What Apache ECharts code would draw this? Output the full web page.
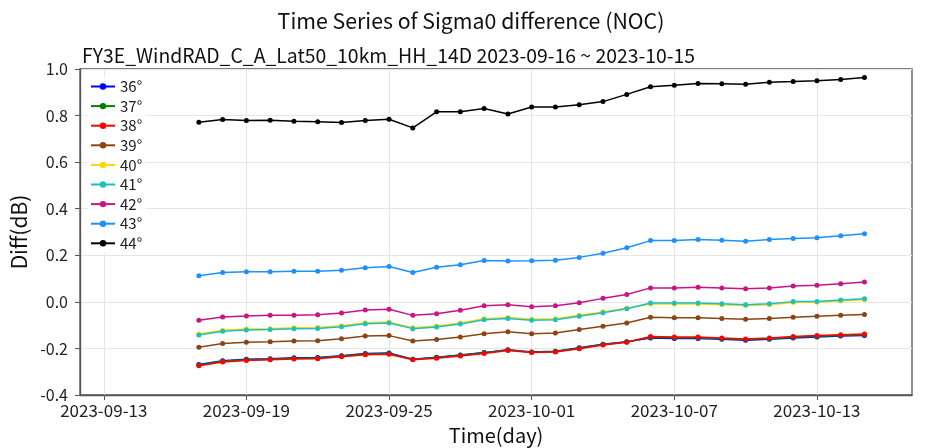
<!DOCTYPE html>
<html>
<head>
<meta charset="utf-8">
<script src="https://cdn.jsdelivr.net/npm/echarts@6/dist/echarts.min.js"></script>
<style>html,body{margin:0;padding:0;background:#fff;}#c{width:942px;height:448px;}</style>
</head>
<body>
<div id="c"></div>
<script>
const dates = ['2023-09-17','2023-09-18','2023-09-19','2023-09-20','2023-09-21','2023-09-22','2023-09-23','2023-09-24','2023-09-25','2023-09-26','2023-09-27','2023-09-28','2023-09-29','2023-09-30','2023-10-01','2023-10-02','2023-10-03','2023-10-04','2023-10-05','2023-10-06','2023-10-07','2023-10-08','2023-10-09','2023-10-10','2023-10-11','2023-10-12','2023-10-13','2023-10-14','2023-10-15'];
const xTickLabels = ['2023-09-13','2023-09-19','2023-09-25','2023-10-01','2023-10-07','2023-10-13'];
const xRange = ['2023-09-12','2023-10-17'];
const yTicks = [-0.4,-0.2,0.0,0.2,0.4,0.6,0.8,1.0];
const seriesNames = ['36°','37°','38°','39°','40°','41°','42°','43°','44°'];
const s36 = [-0.269,-0.253,-0.247,-0.244,-0.240,-0.239,-0.231,-0.222,-0.220,-0.246,-0.238,-0.228,-0.218,-0.206,-0.215,-0.212,-0.197,-0.182,-0.171,-0.155,-0.157,-0.157,-0.161,-0.165,-0.161,-0.155,-0.151,-0.147,-0.144];
const s37 = [-0.271,-0.255,-0.249,-0.246,-0.242,-0.241,-0.233,-0.224,-0.222,-0.247,-0.239,-0.229,-0.219,-0.207,-0.216,-0.213,-0.199,-0.183,-0.172,-0.152,-0.154,-0.154,-0.158,-0.162,-0.158,-0.152,-0.148,-0.144,-0.141];
const s38 = [-0.274,-0.258,-0.252,-0.249,-0.245,-0.244,-0.236,-0.227,-0.225,-0.249,-0.242,-0.233,-0.222,-0.209,-0.218,-0.215,-0.201,-0.185,-0.173,-0.149,-0.151,-0.151,-0.155,-0.159,-0.155,-0.149,-0.145,-0.141,-0.138];
const s39 = [-0.195,-0.179,-0.173,-0.171,-0.168,-0.167,-0.158,-0.147,-0.145,-0.168,-0.162,-0.151,-0.137,-0.128,-0.137,-0.134,-0.119,-0.105,-0.091,-0.066,-0.068,-0.068,-0.072,-0.075,-0.071,-0.066,-0.062,-0.058,-0.054];
const s40 = [-0.138,-0.122,-0.117,-0.115,-0.111,-0.110,-0.103,-0.090,-0.087,-0.111,-0.104,-0.091,-0.073,-0.067,-0.075,-0.073,-0.058,-0.043,-0.027,-0.009,-0.009,-0.009,-0.012,-0.016,-0.012,-0.003,-0.002,0.004,0.009];
const s41 = [-0.142,-0.126,-0.121,-0.119,-0.115,-0.114,-0.107,-0.094,-0.091,-0.115,-0.108,-0.095,-0.077,-0.071,-0.079,-0.077,-0.062,-0.047,-0.030,-0.005,-0.005,-0.005,-0.008,-0.012,-0.008,0.001,0.002,0.008,0.013];
const s42 = [-0.079,-0.065,-0.061,-0.058,-0.057,-0.055,-0.048,-0.035,-0.032,-0.058,-0.051,-0.036,-0.017,-0.012,-0.021,-0.017,-0.004,0.015,0.032,0.060,0.060,0.063,0.060,0.056,0.060,0.068,0.071,0.078,0.085];
const s43 = [0.112,0.126,0.129,0.129,0.131,0.131,0.136,0.146,0.152,0.126,0.149,0.159,0.178,0.175,0.176,0.179,0.191,0.209,0.232,0.263,0.263,0.268,0.265,0.260,0.268,0.272,0.275,0.284,0.292];
const s44 = [0.771,0.783,0.779,0.780,0.776,0.773,0.770,0.779,0.784,0.747,0.816,0.816,0.830,0.807,0.837,0.837,0.846,0.860,0.891,0.924,0.930,0.938,0.937,0.934,0.943,0.946,0.950,0.955,0.963];
const seriesValues = [s36,s37,s38,s39,s40,s41,s42,s43,s44];
const colors = ['#0000ff','#008000','#ff0000','#8b4513','#ffd700','#20bfbf','#c71585','#1e90ff','#000000'];

const DAY = 86400000;
const base = Date.parse(xTickLabels[0]);
const toX = d => (Date.parse(d) - base) / DAY;
const fromX = v => new Date(base + v * DAY).toISOString().slice(0, 10);
const FONT = "'Noto Sans CJK SC','Noto Sans',sans-serif";

const chart = echarts.init(document.getElementById('c'), null, {renderer: 'canvas'});
const tickVals = xTickLabels.map(toX);
chart.setOption({
  animation: false,
  backgroundColor: '#fff',
  textStyle: {fontFamily: FONT},
  title: [
    {text: 'Time Series of Sigma0 difference (NOC)', left: 'center', top: 5,
     textStyle: {fontFamily: FONT, fontSize: 21.3, fontWeight: 'normal', color: '#111'}},
    {text: 'FY3E_WindRAD_C_A_Lat50_10km_HH_14D 2023-09-16 ~ 2023-10-15', left: 77, top: 41,
     textStyle: {fontFamily: FONT, fontSize: 19.4, fontWeight: 'normal', color: '#111'}}
  ],
  grid: {left: 80, right: 30, top: 69, bottom: 53, show: true, borderColor: '#555', borderWidth: 1.3, backgroundColor: 'transparent', outerBoundsMode: 'none', containLabel: false},
  legend: {
    orient: 'vertical', left: 88, top: 77, itemWidth: 24, itemHeight: 8, itemGap: 4.6,
    textStyle: {fontFamily: FONT, fontSize: 15, color: '#222', lineHeight: 14},
    data: seriesNames, backgroundColor: 'rgba(255,255,255,0.8)', padding: [2,4,2,2]
  },
  xAxis: {
    type: 'value', min: toX(xRange[0]), max: toX(xRange[1]),
    name: 'Time(day)', nameLocation: 'middle', nameGap: 30,
    nameTextStyle: {fontFamily: FONT, fontSize: 20, color: '#111'},
    axisLine: {show: true, onZero: false, lineStyle: {color: '#555', width: 1.3}},
    axisTick: {show: true, inside: false, length: 5, customValues: tickVals, lineStyle: {color: '#555'}},
    axisLabel: {customValues: tickVals, formatter: v => fromX(v), fontFamily: FONT, fontSize: 17, color: '#222', margin: 7},
    splitLine: {show: true, lineStyle: {color: '#e6e6e6', width: 1}}
  },
  yAxis: {
    type: 'value', min: yTicks[0], max: yTicks[yTicks.length - 1], interval: 0.2,
    name: 'Diff(dB)', nameLocation: 'middle', nameGap: 48,
    nameTextStyle: {fontFamily: FONT, fontSize: 21, color: '#111'},
    axisLine: {show: true, onZero: false, lineStyle: {color: '#555', width: 1.3}},
    axisTick: {show: true, length: 5, lineStyle: {color: '#555'}},
    axisLabel: {formatter: v => v.toFixed(1), fontFamily: FONT, fontSize: 16, color: '#222', margin: 12},
    splitLine: {show: true, lineStyle: {color: '#e6e6e6', width: 1}}
  },
  series: seriesNames.map((n, i) => ({
    name: n, type: 'line', symbol: 'circle', symbolSize: 5,
    lineStyle: {width: 1.5, color: colors[i]}, itemStyle: {color: colors[i]},
    data: dates.map((d, j) => [toX(d), seriesValues[i][j]])
  }))
});
</script>
</body>
</html>
